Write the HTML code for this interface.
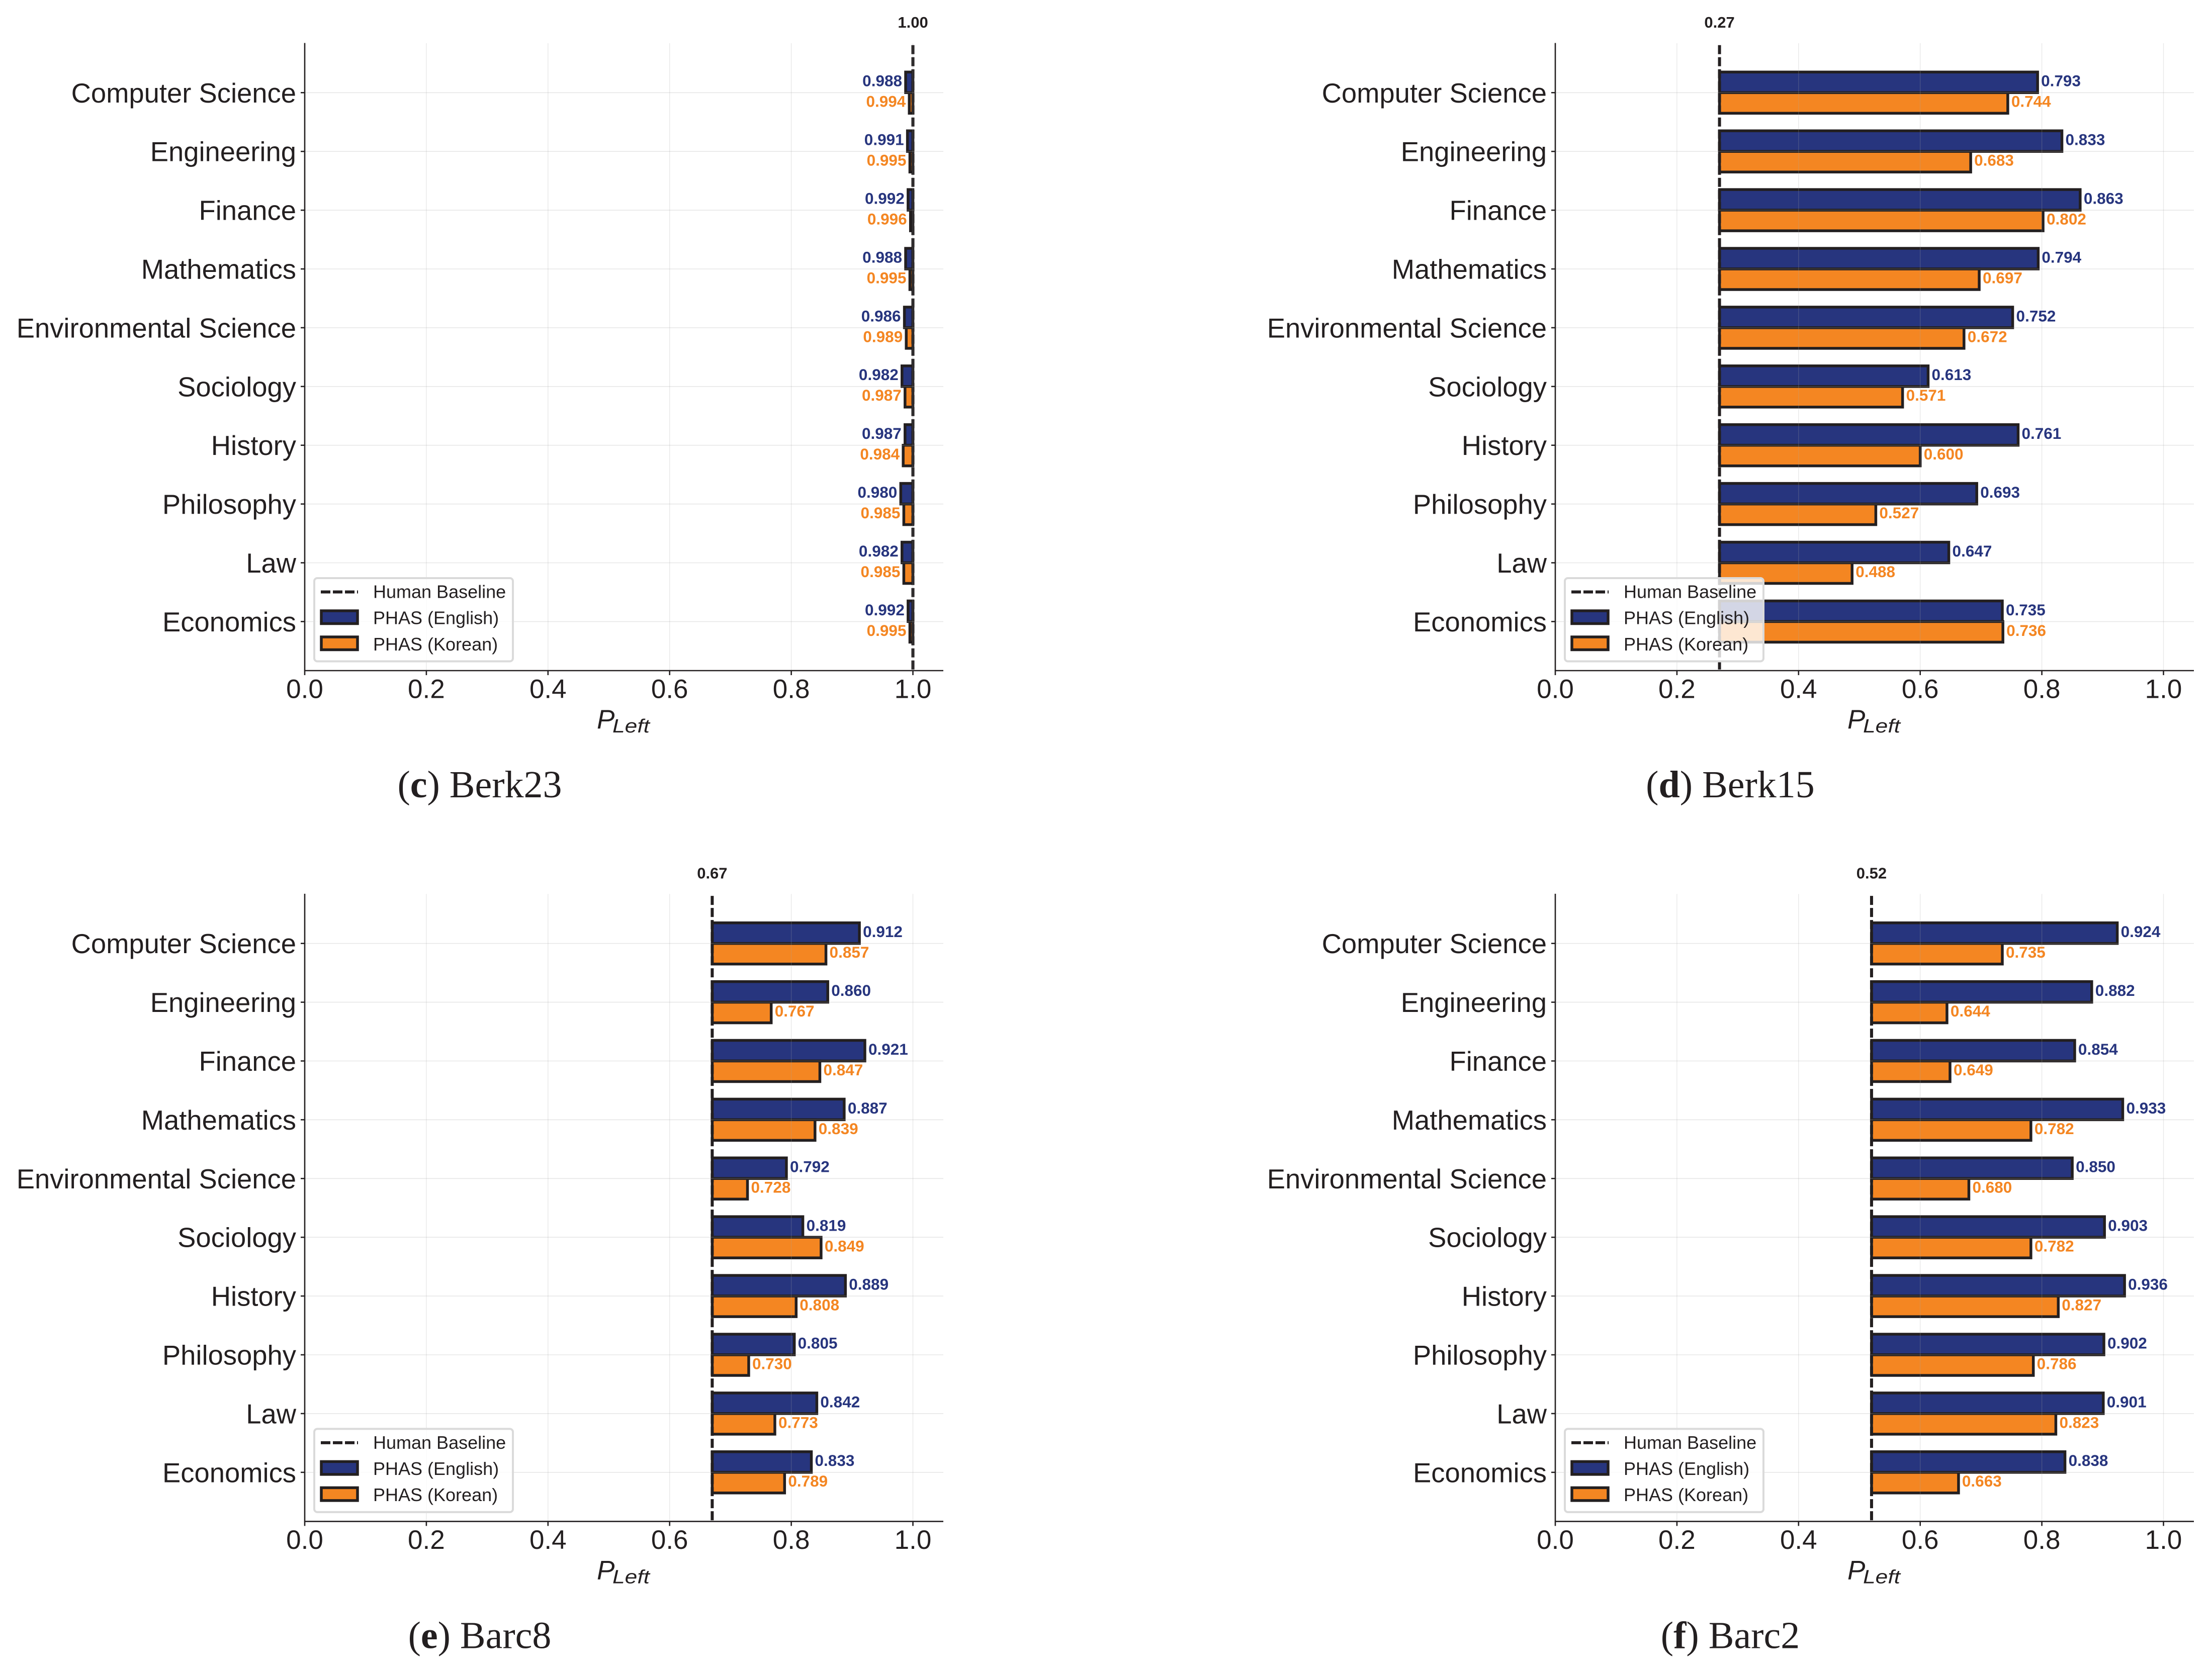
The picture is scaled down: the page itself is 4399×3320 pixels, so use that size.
<!DOCTYPE html>
<html lang="en">
<head>
<meta charset="utf-8">
<title>PHAS by discipline, English vs Korean</title>
<style>
html,body{margin:0;padding:0;background:#fff;}
svg{display:block;}
text{font-family:"Liberation Sans",Arial,sans-serif;fill:#231f20;}
.caption{font-family:"Liberation Serif",serif;font-size:76px;text-anchor:middle;}
.caption tspan{font-weight:bold;}
</style>
</head>
<body>
<svg id="figure" xmlns="http://www.w3.org/2000/svg" width="4399" height="3320" viewBox="0 0 4399 3320">
<rect width="4399" height="3320" fill="#fff"/>
<text class="caption" x="954" y="1586">(<tspan>c</tspan>) Berk23</text>
<text class="caption" x="3441" y="1586">(<tspan>d</tspan>) Berk15</text>
<text class="caption" x="954" y="3278.5">(<tspan>e</tspan>) Barc8</text>
<text class="caption" x="3441" y="3278.5">(<tspan>f</tspan>) Barc2</text>
</svg>
<script>
const categories = ["Computer Science","Engineering","Finance","Mathematics","Environmental Science","Sociology","History","Philosophy","Law","Economics"];
const xTicks = [0.0,0.2,0.4,0.6,0.8,1.0];
const xTickLabels = ["0.0","0.2","0.4","0.6","0.8","1.0"];
const legendLabels = ["Human Baseline","PHAS (English)","PHAS (Korean)"];

const berk23English = [0.988,0.991,0.992,0.988,0.986,0.982,0.987,0.980,0.982,0.992];
const berk23Korean  = [0.994,0.995,0.996,0.995,0.989,0.987,0.984,0.985,0.985,0.995];
const berk23Baseline = 1.00;

const berk15English = [0.793,0.833,0.863,0.794,0.752,0.613,0.761,0.693,0.647,0.735];
const berk15Korean  = [0.744,0.683,0.802,0.697,0.672,0.571,0.600,0.527,0.488,0.736];
const berk15Baseline = 0.27;

const barc8English = [0.912,0.860,0.921,0.887,0.792,0.819,0.889,0.805,0.842,0.833];
const barc8Korean  = [0.857,0.767,0.847,0.839,0.728,0.849,0.808,0.730,0.773,0.789];
const barc8Baseline = 0.67;

const barc2English = [0.924,0.882,0.854,0.933,0.850,0.903,0.936,0.902,0.901,0.838];
const barc2Korean  = [0.735,0.644,0.649,0.782,0.680,0.782,0.827,0.786,0.823,0.663];
const barc2Baseline = 0.52;

const NS = "http://www.w3.org/2000/svg";
const root = document.getElementById("figure");
const INK = "#231f20", BLUE = "#27357e", ORANGE = "#f48622";
const AX_W = 1270, AX_H = 1248, X_MAX = 1.05;
const ROW0 = 98.3, ROW_STEP = 116.9, BAR_H = 41, BAR_LW = 5.5;

function make(parent, tag, props, text) {
  const el = document.createElementNS(NS, tag);
  for (const k in props) el.setAttribute(k, props[k]);
  if (text !== undefined) el.textContent = text;
  parent.appendChild(el);
  return el;
}

function drawPanel(key, left, top, english, korean, baseline) {
  const sx = v => left + (v / X_MAX) * AX_W;
  const sy = i => top + ROW0 + i * ROW_STEP;
  const bottom = top + AX_H;

  const g = make(root, "g", {});
  
  

  // bars: both series start at the human baseline
  categories.forEach((cat, i) => {
    [[english, BLUE, 'english', -1], [korean, ORANGE, 'korean', 0]].forEach(s => {
      const v = s[0][i];
      const x1 = Math.min(sx(v), sx(baseline));
      const x2 = Math.max(sx(v), sx(baseline));
      const bar = make(g, "rect", {
        x: x1, y: sy(i) + s[3] * BAR_H, width: x2 - x1, height: BAR_H,
        fill: s[1], stroke: INK, "stroke-width": BAR_LW
      });
      
      
    });
  });

  // baseline
  const base = make(g, "line", {
    x1: sx(baseline), x2: sx(baseline), y1: top, y2: bottom,
    stroke: INK, "stroke-width": 6, "stroke-dasharray": "18 6", "stroke-dashoffset": -3.7
  });
  
  

  const baseLabel = make(g, "text", {
    x: sx(baseline), y: top - 31, "text-anchor": "middle",
    "font-size": 31, "font-weight": "bold"
  }, baseline.toFixed(2));
  
  

  // grid above bars
  xTicks.forEach(t => {
    const gl = make(g, "line", {
      x1: sx(t), x2: sx(t), y1: top, y2: bottom,
      stroke: "#a8a8a8", "stroke-opacity": 0.26, "stroke-width": 1.4
    });
    
    
  });
  categories.forEach((cat, i) => {
    const gl = make(g, "line", {
      x1: left, x2: left + AX_W, y1: sy(i), y2: sy(i),
      stroke: "#a8a8a8", "stroke-opacity": 0.28, "stroke-width": 1.6
    });
    
    
  });

  // value labels
  categories.forEach((cat, i) => {
    [[english, BLUE, 'english', -12.6], [korean, ORANGE, 'korean', 28.4]].forEach(s => {
      const v = s[0][i];
      const right = v >= baseline;
      const lab = make(g, "text", {
        x: sx(v) + (right ? 7 : -7), y: sy(i) + s[3],
        "text-anchor": right ? "start" : "end",
        "font-size": 31.5, "font-weight": "bold", style: "fill:" + s[1]
      }, v.toFixed(3));
      
      
    });
  });

  // spines
  const sl = make(g, "line", { x1: left, x2: left, y1: top - 0.5, y2: bottom + 1, stroke: INK, "stroke-width": 2.6 });
  
  
  const sb = make(g, "line", { x1: left - 1, x2: left + AX_W, y1: bottom, y2: bottom, stroke: INK, "stroke-width": 2.6 });
  
  

  // y ticks and category labels
  categories.forEach((cat, i) => {
    const tk = make(g, "line", { x1: left - 8, x2: left, y1: sy(i), y2: sy(i), stroke: INK, "stroke-width": 2.6 });
    
    
    const lab = make(g, "text", { x: left - 17, y: sy(i) + 19.5, "text-anchor": "end", "font-size": 54.4 }, cat);
    
    
  });

  // x ticks and labels
  xTicks.forEach((t, i) => {
    const tk = make(g, "line", { x1: sx(t), x2: sx(t), y1: bottom, y2: bottom + 9, stroke: INK, "stroke-width": 2.6 });
    
    
    const lab = make(g, "text", { x: sx(t), y: bottom + 54.5, "text-anchor": "middle", "font-size": 53 }, xTickLabels[i]);
    
    
  });

  // x axis title
  const xp = make(g, "text", { x: left + 581, y: bottom + 115, "font-size": 53, "font-style": "italic" }, "P");
  
  
  const xs = make(g, "text", {
    x: left + 612, y: bottom + 123, "font-size": 38, "font-style": "italic",
    textLength: 74, lengthAdjust: "spacingAndGlyphs"
  }, "Left");
  
  

  // legend
  const lw = 399;
  const lx = left + 17, ly = top + 1062;
  const lg = make(g, "g", {});
  
  
  const box = make(lg, "rect", {
    x: lx + 2, y: ly + 2, width: lw - 4, height: 165.5, rx: 6, ry: 6,
    fill: "#fff", "fill-opacity": 0.8, stroke: "#dadada", "stroke-width": 4
  });
  
  
  const ld = make(lg, "line", {
    x1: lx + 15, x2: lx + 89, y1: ly + 29.5, y2: ly + 29.5,
    stroke: INK, "stroke-width": 6, "stroke-dasharray": "19 5"
  });
  
  
  [[BLUE, 67], [ORANGE, 119]].forEach((p, j) => {
    const sw = make(lg, "rect", {
      x: lx + 16, y: ly + p[1], width: 72, height: 25.5,
      fill: p[0], stroke: INK, "stroke-width": 5.5
    });
    
    
  });
  [41.5, 93.7, 145.8].forEach((dy, j) => {
    const lt = make(lg, "text", { x: lx + 119, y: ly + dy, "font-size": 36 }, legendLabels[j]);
    
    
  });
}

drawPanel('berk23', 606, 86, berk23English, berk23Korean, berk23Baseline);
drawPanel('berk15', 3093, 86, berk15English, berk15Korean, berk15Baseline);
drawPanel('barc8', 606, 1778.4, barc8English, barc8Korean, barc8Baseline);
drawPanel('barc2', 3093, 1778.4, barc2English, barc2Korean, barc2Baseline);
</script>
</body>
</html>
